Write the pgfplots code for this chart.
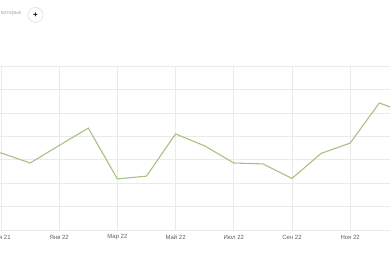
\documentclass[border=0pt]{standalone}
\usepackage{pgfplots}
\pgfplotsset{compat=1.18}
\usepackage{fontspec}
\setmainfont{Liberation Sans}
\definecolor{linegreen}{RGB}{166,194,132}
\definecolor{gridgray}{RGB}{234,234,234}
\definecolor{labelgray}{RGB}{95,95,95}
\begin{document}
\begin{tikzpicture}
\begin{axis}[
  name=ax,
  x=29.1bp, y=2.343bp,
  xmin=-0.0344, xmax=13.368,
  ymin=0, ymax=70,
  axis line style={draw=none},
  major tick length=0pt,
  xtick={0,2,4,6,8,10,12},
  xticklabels={Ноя 21,Янв 22,Мар 22,Май 22,Июл 22,Сен 22,Ноя 22},
  ytick={0,10,...,70},
  yticklabels={},
  grid=major,
  grid style={color=gridgray, line width=0.7bp},
  xticklabel style={font=\fontsize{6}{7}\selectfont, text=labelgray, anchor=center, yshift=-7bp},
  clip=true,
]
\addplot[color=linegreen, line width=1.1bp, mark=none] coordinates {
(-1,30.0) (0,32.9) (1,28.6) (2,36.1) (3,43.5) (4,21.8) (5,23.0) (6,41.0)
(7,35.9) (8,28.6) (9,28.2) (10,22.0) (11,32.7) (12,37.1) (13,54.2) (14,49.7)
};
\end{axis}
\node[anchor=east, font=\fontsize{5.5}{6}\selectfont, text=gray!70] at ([shift={(25bp,52bp)}]ax.north west) {которых};
\draw[gray!25, line width=0.6bp, fill=white] ([shift={(35.5bp,51bp)}]ax.north west) circle (7.5bp);
\node[font=\bfseries\fontsize{8}{8}\selectfont] at ([shift={(35.5bp,51bp)}]ax.north west) {+};
\pgfresetboundingbox
\path[use as bounding box] ([yshift=-30bp]ax.south west) rectangle ([yshift=66bp]ax.north east);
\end{tikzpicture}
\end{document}
